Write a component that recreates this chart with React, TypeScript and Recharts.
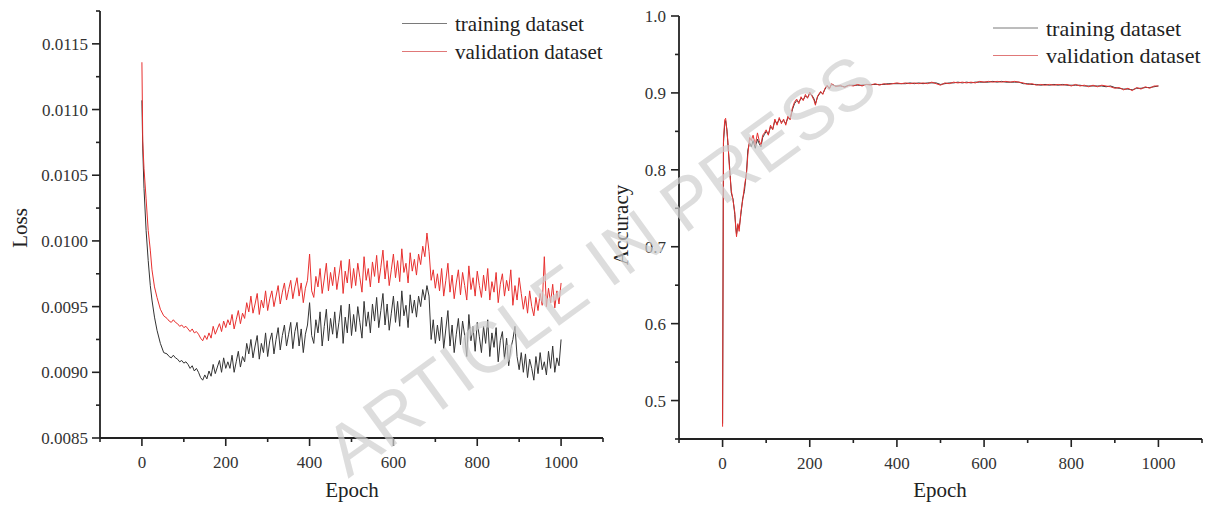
import React from 'react';
import { LineChart, Line, XAxis, YAxis } from 'recharts';

// ---------------- data ----------------
const lossEpochs = [
  0, 2, 5, 10, 15, 20, 24, 30, 36, 44, 52,
  60, 65, 70, 75, 80, 85, 90, 95, 100, 105,
  110, 115, 120, 125, 130, 135, 140, 145, 150, 155,
  160, 165, 170, 175, 180, 185, 190, 195, 200, 205,
  210, 215, 220, 225, 230, 235, 240, 245, 250, 255,
  260, 265, 270, 275, 280, 285, 290, 295, 300, 305,
  310, 315, 320, 325, 330, 335, 340, 345, 350, 355,
  360, 365, 370, 375, 380, 385, 390, 395, 400, 405,
  410, 415, 420, 425, 430, 435, 440, 445, 450, 455,
  460, 465, 470, 475, 480, 485, 490, 495, 500, 505,
  510, 515, 520, 525, 530, 535, 540, 545, 550, 555,
  560, 565, 570, 575, 580, 585, 590, 595, 600, 605,
  610, 615, 620, 625, 630, 635, 640, 645, 650, 655,
  660, 665, 670, 675, 680, 685, 690, 695, 700, 705,
  710, 715, 720, 725, 730, 735, 740, 745, 750, 755,
  760, 765, 770, 775, 780, 785, 790, 795, 800, 805,
  810, 815, 820, 825, 830, 835, 840, 845, 850, 855,
  860, 865, 870, 875, 880, 885, 890, 895, 900, 905,
  910, 915, 920, 925, 930, 935, 940, 945, 950, 955,
  960, 965, 970, 975, 980, 985, 990, 995, 1000,
];

const trainLoss = [
  0.01107, 0.0107, 0.0104, 0.01008, 0.00985, 0.00966, 0.00955, 0.00942, 0.00932, 0.00922, 0.00915,
  0.00914, 0.00912, 0.00911, 0.00913, 0.00911, 0.0091, 0.00908, 0.00909, 0.00907, 0.00908,
  0.00906, 0.00903, 0.00905, 0.00901, 0.00903, 0.009, 0.00896, 0.00894, 0.00898, 0.00895,
  0.00901, 0.00897, 0.00906, 0.00899, 0.00904, 0.00909, 0.009, 0.00911, 0.00903, 0.00908,
  0.00903, 0.00913, 0.009, 0.00908, 0.00916, 0.00904, 0.00912, 0.00908, 0.00922, 0.00914,
  0.00925, 0.00911, 0.0092, 0.00928, 0.0091, 0.00922, 0.00915, 0.0093, 0.00912, 0.00924,
  0.0093, 0.00914, 0.00925, 0.00934, 0.00917, 0.00928, 0.00936, 0.0092, 0.00929, 0.00938,
  0.00918, 0.00931, 0.00938, 0.0092, 0.00933, 0.00915, 0.00929, 0.00936, 0.00953, 0.00928,
  0.00922, 0.0094, 0.0093, 0.00946, 0.0092, 0.00935, 0.00948, 0.00924, 0.00941, 0.00929,
  0.00946, 0.00926, 0.00938, 0.00951, 0.00922, 0.00942, 0.0093, 0.00952, 0.00928, 0.00944,
  0.00931, 0.0095, 0.00938, 0.00926, 0.00954, 0.00935, 0.00946, 0.0093, 0.00952, 0.00939,
  0.00957, 0.00934, 0.00947, 0.0096, 0.00936, 0.00952, 0.00932, 0.00945, 0.00958, 0.00938,
  0.00954, 0.00935, 0.00962, 0.00943, 0.00951, 0.00934, 0.00959, 0.00945, 0.00955, 0.00942,
  0.00958, 0.0095, 0.00963, 0.00955, 0.00966, 0.00958, 0.00925, 0.0094, 0.00922, 0.00936,
  0.00924, 0.00942, 0.00918, 0.00933, 0.00947, 0.0092, 0.00936, 0.00915, 0.00929, 0.00941,
  0.00921, 0.00939, 0.00928, 0.00912, 0.00944, 0.00924, 0.00935, 0.00916, 0.00938, 0.00927,
  0.00915, 0.00935, 0.00922, 0.0094, 0.00912, 0.0093, 0.00919, 0.00934, 0.00908, 0.00924,
  0.00931, 0.0091, 0.00926, 0.00905, 0.00918, 0.00925, 0.00935, 0.00912, 0.00902, 0.00915,
  0.009, 0.00914, 0.00896, 0.0091, 0.00903, 0.00894, 0.00912, 0.00899, 0.00915, 0.00902,
  0.00908, 0.00898, 0.00916, 0.00903, 0.0092, 0.009, 0.00911, 0.00905, 0.00925,
];

const valLoss = [
  0.01136, 0.01076, 0.01055, 0.01032, 0.01008, 0.00993, 0.00978, 0.00965, 0.00957, 0.00948, 0.00943,
  0.00941, 0.00939, 0.00938, 0.0094, 0.00938, 0.00937, 0.00935, 0.00936, 0.00934, 0.00935,
  0.00933, 0.00931, 0.00933, 0.0093, 0.00931, 0.00929, 0.00926, 0.00924, 0.00928, 0.00925,
  0.0093, 0.00926, 0.00935, 0.00929, 0.00933, 0.00937, 0.00931, 0.00939, 0.00934, 0.0094,
  0.00936, 0.00944, 0.00933, 0.0094, 0.00947, 0.00937, 0.00945, 0.00941, 0.00953, 0.00946,
  0.00958, 0.00945, 0.00952, 0.0096, 0.00944, 0.00955, 0.00949, 0.00962, 0.00947, 0.00956,
  0.00962, 0.0095, 0.00958, 0.00966, 0.00952, 0.00961, 0.00968, 0.00955, 0.00963, 0.0097,
  0.00956, 0.00965, 0.00972, 0.00958, 0.00968, 0.00953, 0.00964, 0.0097, 0.0099, 0.00962,
  0.00957, 0.00973, 0.00965, 0.00979, 0.0096, 0.00971, 0.00983, 0.00962, 0.00976, 0.00966,
  0.0098, 0.00963, 0.00974, 0.00985, 0.0096, 0.00977, 0.00968, 0.00986, 0.00964, 0.00979,
  0.00966, 0.00983, 0.00972, 0.00961, 0.00988, 0.0097, 0.00979, 0.00965, 0.00984, 0.00973,
  0.00989, 0.00968, 0.0098, 0.00993, 0.00971, 0.00985, 0.00966, 0.00978, 0.0099, 0.00972,
  0.00985, 0.00969, 0.00994, 0.00976, 0.00983, 0.00968, 0.00991, 0.00977, 0.00986, 0.00974,
  0.0099, 0.00982, 0.00996, 0.00988, 0.01006, 0.00992, 0.0097, 0.00978, 0.00964, 0.00975,
  0.00962, 0.00979, 0.00958, 0.0097, 0.00983, 0.00961, 0.00974, 0.00956, 0.00968, 0.00978,
  0.00959, 0.00976, 0.00966, 0.00955, 0.00981, 0.00963, 0.00972, 0.00958, 0.00977, 0.00966,
  0.00957, 0.00974, 0.00962, 0.00979, 0.00955, 0.00969, 0.00961, 0.00976, 0.00953, 0.00967,
  0.00975, 0.00958, 0.0097, 0.00962, 0.00978, 0.00951, 0.00966, 0.00955, 0.00972, 0.0096,
  0.00948, 0.00958, 0.00945, 0.00962, 0.0095, 0.00943, 0.00957, 0.00947, 0.0096, 0.00951,
  0.00988, 0.0095, 0.00964, 0.00953, 0.00967, 0.00949, 0.00962, 0.00952, 0.00968,
];

const accEpochs = [
  0, 2, 5, 7, 10, 12, 16, 20, 24, 28,
  30, 32, 35, 38, 42, 46, 50, 55, 58, 62,
  66, 70, 75, 80, 84, 88, 92, 96, 100, 105,
  110, 115, 120, 125, 130, 135, 140, 145, 150, 155,
  160, 165, 170, 175, 180, 185, 190, 195, 200, 205,
  210, 213, 218, 225, 230, 235, 240, 245, 250,
  260, 270, 280, 290, 300, 310, 320, 330, 340, 350,
  360, 370, 380, 390, 400, 410, 420, 430, 440, 450,
  460, 470, 480, 490, 500, 510, 520, 530, 540, 550,
  560, 570, 580, 590, 600, 610, 620, 630, 640, 650,
  660, 670, 680, 690, 700, 710, 720, 730, 740, 750,
  760, 770, 780, 790, 800, 810, 820, 830, 840, 850,
  860, 870, 880, 890, 900, 910, 920, 930, 940, 950,
  960, 970, 980, 990, 1000,
];

const trainAcc = [
  0.47, 0.835, 0.86, 0.864, 0.852, 0.835, 0.805, 0.77, 0.762, 0.742,
  0.728, 0.716, 0.728, 0.724, 0.742, 0.762, 0.772, 0.798, 0.826, 0.835,
  0.83, 0.838, 0.828, 0.84, 0.834, 0.83, 0.842, 0.846, 0.85, 0.846,
  0.856, 0.853, 0.864, 0.86, 0.866, 0.862, 0.864, 0.86, 0.868, 0.866,
  0.878, 0.886, 0.89, 0.888, 0.893, 0.891, 0.896, 0.894, 0.899, 0.897,
  0.892, 0.886, 0.895, 0.901, 0.899, 0.905, 0.909, 0.906, 0.911,
  0.909, 0.909, 0.908, 0.91, 0.91, 0.91, 0.91, 0.911, 0.911, 0.911,
  0.911, 0.911, 0.912, 0.912, 0.912, 0.912, 0.912, 0.913, 0.912, 0.913,
  0.912, 0.913, 0.913, 0.913, 0.911, 0.912, 0.913, 0.913, 0.914, 0.913,
  0.914, 0.913, 0.914, 0.914, 0.914, 0.914, 0.915, 0.914, 0.915, 0.914,
  0.914, 0.914, 0.914, 0.912, 0.912, 0.911, 0.911, 0.91, 0.911, 0.91,
  0.911, 0.91, 0.911, 0.91, 0.91, 0.91, 0.91, 0.909, 0.909, 0.909,
  0.909, 0.909, 0.908, 0.909, 0.907, 0.906, 0.905, 0.905, 0.904, 0.906,
  0.906, 0.907, 0.907, 0.908, 0.909,
];

const valAcc = [
  0.466, 0.84, 0.865, 0.867, 0.85, 0.838, 0.8, 0.773, 0.76, 0.745,
  0.725, 0.713, 0.73, 0.72, 0.745, 0.76, 0.778, 0.796, 0.82, 0.842,
  0.838, 0.845, 0.832, 0.848, 0.838, 0.832, 0.845, 0.848, 0.852, 0.845,
  0.858, 0.852, 0.866, 0.858, 0.868, 0.86, 0.866, 0.858, 0.87, 0.865,
  0.88, 0.888, 0.892, 0.886, 0.895, 0.89, 0.898, 0.893, 0.901, 0.896,
  0.89, 0.884, 0.896, 0.902, 0.898, 0.906, 0.91, 0.905, 0.912,
  0.908, 0.91, 0.907, 0.91, 0.909, 0.911, 0.909, 0.911, 0.91, 0.912,
  0.91, 0.912, 0.911, 0.912, 0.913, 0.912, 0.913, 0.912, 0.913, 0.912,
  0.913, 0.912, 0.914, 0.912, 0.91, 0.913, 0.912, 0.914, 0.913, 0.914,
  0.913, 0.914, 0.913, 0.915, 0.914, 0.915, 0.914, 0.915, 0.914, 0.915,
  0.914, 0.915, 0.914, 0.913, 0.911, 0.912, 0.91, 0.911, 0.91, 0.911,
  0.91, 0.911, 0.91, 0.911, 0.909, 0.911, 0.909, 0.91, 0.908, 0.91,
  0.908, 0.91, 0.909, 0.908, 0.906, 0.907, 0.904, 0.906, 0.903, 0.907,
  0.905, 0.908, 0.906, 0.909, 0.909,
];

const epochTicks = [-100, 0, 100, 200, 300, 400, 500, 600, 700, 800, 900, 1000, 1100];
const epochTickLabels = ['', '0', '', '200', '', '400', '', '600', '', '800', '', '1000', ''];

const lossTicks = [0.0085, 0.00875, 0.009, 0.00925, 0.0095, 0.00975, 0.01, 0.01025, 0.0105, 0.01075, 0.011, 0.01125, 0.0115, 0.01175];
const lossTickLabels = ['0.0085', '', '0.0090', '', '0.0095', '', '0.0100', '', '0.0105', '', '0.0110', '', '0.0115', ''];

const accTicks = [0.45, 0.5, 0.55, 0.6, 0.65, 0.7, 0.75, 0.8, 0.85, 0.9, 0.95, 1.0];
const accTickLabels = ['', '0.5', '', '0.6', '', '0.7', '', '0.8', '', '0.9', '', '1.0'];

const seriesNames = ['training dataset', 'validation dataset'];

// ---------------- styling ----------------
const SERIF = '"Liberation Serif", "Times New Roman", serif';
const SANS = '"Liberation Sans", Arial, sans-serif';
const AXIS = '#222';
const TRAIN_COLOR = '#333333';
const VAL_COLOR = '#e8302f';

const lossRows = lossEpochs.map((e, i) => ({ epoch: e, train: trainLoss[i], val: valLoss[i] }));
const accRows = accEpochs.map((e, i) => ({ epoch: e, train: trainAcc[i], val: valAcc[i] }));

function makeYTick(ticks: number[], labels: string[], gap: number) {
  return (props: any) => {
    const { x, y, payload } = props;
    const i = ticks.indexOf(payload.value);
    const lab = i >= 0 ? labels[i] : '';
    const major = lab !== '';
    const len = major ? 8 : 4;
    return (
      <g>
        <line x1={x - len} x2={x} y1={y} y2={y} stroke={AXIS} strokeWidth={1.6} />
        {major && (
          <text
            x={x - gap}
            y={y + 6}
            textAnchor="end"
            style={{ fontFamily: SERIF, fontSize: 17, fill: '#333' }}
          >
            {lab}
          </text>
        )}
      </g>
    );
  };
}

function makeXTick(ticks: number[], labels: string[]) {
  return (props: any) => {
    const { x, y, payload } = props;
    const i = ticks.indexOf(payload.value);
    const lab = i >= 0 ? labels[i] : '';
    const major = lab !== '';
    const len = major ? 8 : 4;
    return (
      <g>
        <line x1={x} x2={x} y1={y} y2={y + len} stroke={AXIS} strokeWidth={1.6} />
        {major && (
          <text
            x={x}
            y={y + 30}
            textAnchor="middle"
            style={{ fontFamily: SERIF, fontSize: 17, fill: '#333' }}
          >
            {lab}
          </text>
        )}
      </g>
    );
  };
}

const lossYTick = makeYTick(lossTicks, lossTickLabels, 12);
const accYTick = makeYTick(accTicks, accTickLabels, 13);
const epochXTick = makeXTick(epochTicks, epochTickLabels);

function LegendBlock({ x, y1, y2, fs }: { x: number; y1: number; y2: number; fs: number }) {
  const ts = { fontFamily: SERIF, fontSize: fs, fill: '#222' };
  return (
    <g>
      <line x1={x} x2={x + 45} y1={y1} y2={y1} stroke="#7a7a7a" strokeWidth={1} />
      <text x={x + 53} y={y1 + 7.5} style={ts}>{seriesNames[0]}</text>
      <line x1={x} x2={x + 45} y1={y2} y2={y2} stroke="#e07878" strokeWidth={1} />
      <text x={x + 53} y={y2 + 7} style={ts}>{seriesNames[1]}</text>
    </g>
  );
}

const titleStyle = { fontFamily: SERIF, fontSize: 21, fill: '#222' };

export default function App() {
  return (
    <div style={{ position: 'absolute', left: 0, top: 0, width: 1208, height: 506, background: '#fff' }}>
      <div style={{ position: 'absolute', left: 0, top: 0 }}>
        <LineChart width={610} height={506} data={lossRows} margin={{ top: 11, right: 7, left: 0, bottom: 0 }}>
          <XAxis
            dataKey="epoch"
            type="number"
            domain={[-100, 1100]}
            ticks={epochTicks}
            interval={0}
            height={68}
            tickSize={0}
            tickMargin={0}
            tickLine={false}
            axisLine={{ stroke: AXIS, strokeWidth: 1.8 }}
            tick={epochXTick}
            allowDataOverflow
          />
          <YAxis
            type="number"
            domain={[0.0085, 0.01175]}
            ticks={lossTicks}
            interval={0}
            width={100}
            tickSize={0}
            tickMargin={0}
            tickLine={false}
            axisLine={{ stroke: AXIS, strokeWidth: 1.8 }}
            tick={lossYTick}
            allowDataOverflow
          />
          <Line dataKey="train" name={seriesNames[0]} stroke={TRAIN_COLOR} strokeWidth={1} dot={false} isAnimationActive={false} />
          <Line dataKey="val" name={seriesNames[1]} stroke={VAL_COLOR} strokeWidth={1} dot={false} isAnimationActive={false} />
        </LineChart>
      </div>
      <div style={{ position: 'absolute', left: 610, top: 0 }}>
        <LineChart width={598} height={506} data={accRows} margin={{ top: 16, right: 6, left: 0, bottom: 0 }}>
          <XAxis
            dataKey="epoch"
            type="number"
            domain={[-100, 1100]}
            ticks={epochTicks}
            interval={0}
            height={67}
            tickSize={0}
            tickMargin={0}
            tickLine={false}
            axisLine={{ stroke: AXIS, strokeWidth: 1.8 }}
            tick={epochXTick}
            allowDataOverflow
          />
          <YAxis
            type="number"
            domain={[0.45, 1.0]}
            ticks={accTicks}
            interval={0}
            width={69}
            tickSize={0}
            tickMargin={0}
            tickLine={false}
            axisLine={{ stroke: AXIS, strokeWidth: 1.8 }}
            tick={accYTick}
            allowDataOverflow
          />
          <Line dataKey="train" name={seriesNames[0]} stroke={TRAIN_COLOR} strokeWidth={1} dot={false} isAnimationActive={false} />
          <Line dataKey="val" name={seriesNames[1]} stroke={VAL_COLOR} strokeWidth={1} dot={false} isAnimationActive={false} />
        </LineChart>
      </div>
      <svg
        width={1208}
        height={506}
        style={{ position: 'absolute', left: 0, top: 0, pointerEvents: 'none' }}
      >
        <LegendBlock x={402} y1={23.5} y2={51.5} fs={21} />
        <LegendBlock x={993} y1={28} y2={55.5} fs={22} />
        <text x={27} y={228} transform="rotate(-90 27 228)" textAnchor="middle" style={titleStyle}>Loss</text>
        <text x={628} y={225} transform="rotate(-90 628 225)" textAnchor="middle" style={titleStyle}>Accuracy</text>
        <text x={352} y={497} textAnchor="middle" style={titleStyle}>Epoch</text>
        <text x={940} y={497} textAnchor="middle" style={titleStyle}>Epoch</text>
        <text
          x={600}
          y={265}
          transform="rotate(-36 600 265)"
          textAnchor="middle"
          dominantBaseline="central"
          style={{ fontFamily: SANS, fontSize: 72, fill: '#d0d0d0' }}
          opacity={0.7}
        >
          ARTICLE IN PRESS
        </text>
      </svg>
    </div>
  );
}
